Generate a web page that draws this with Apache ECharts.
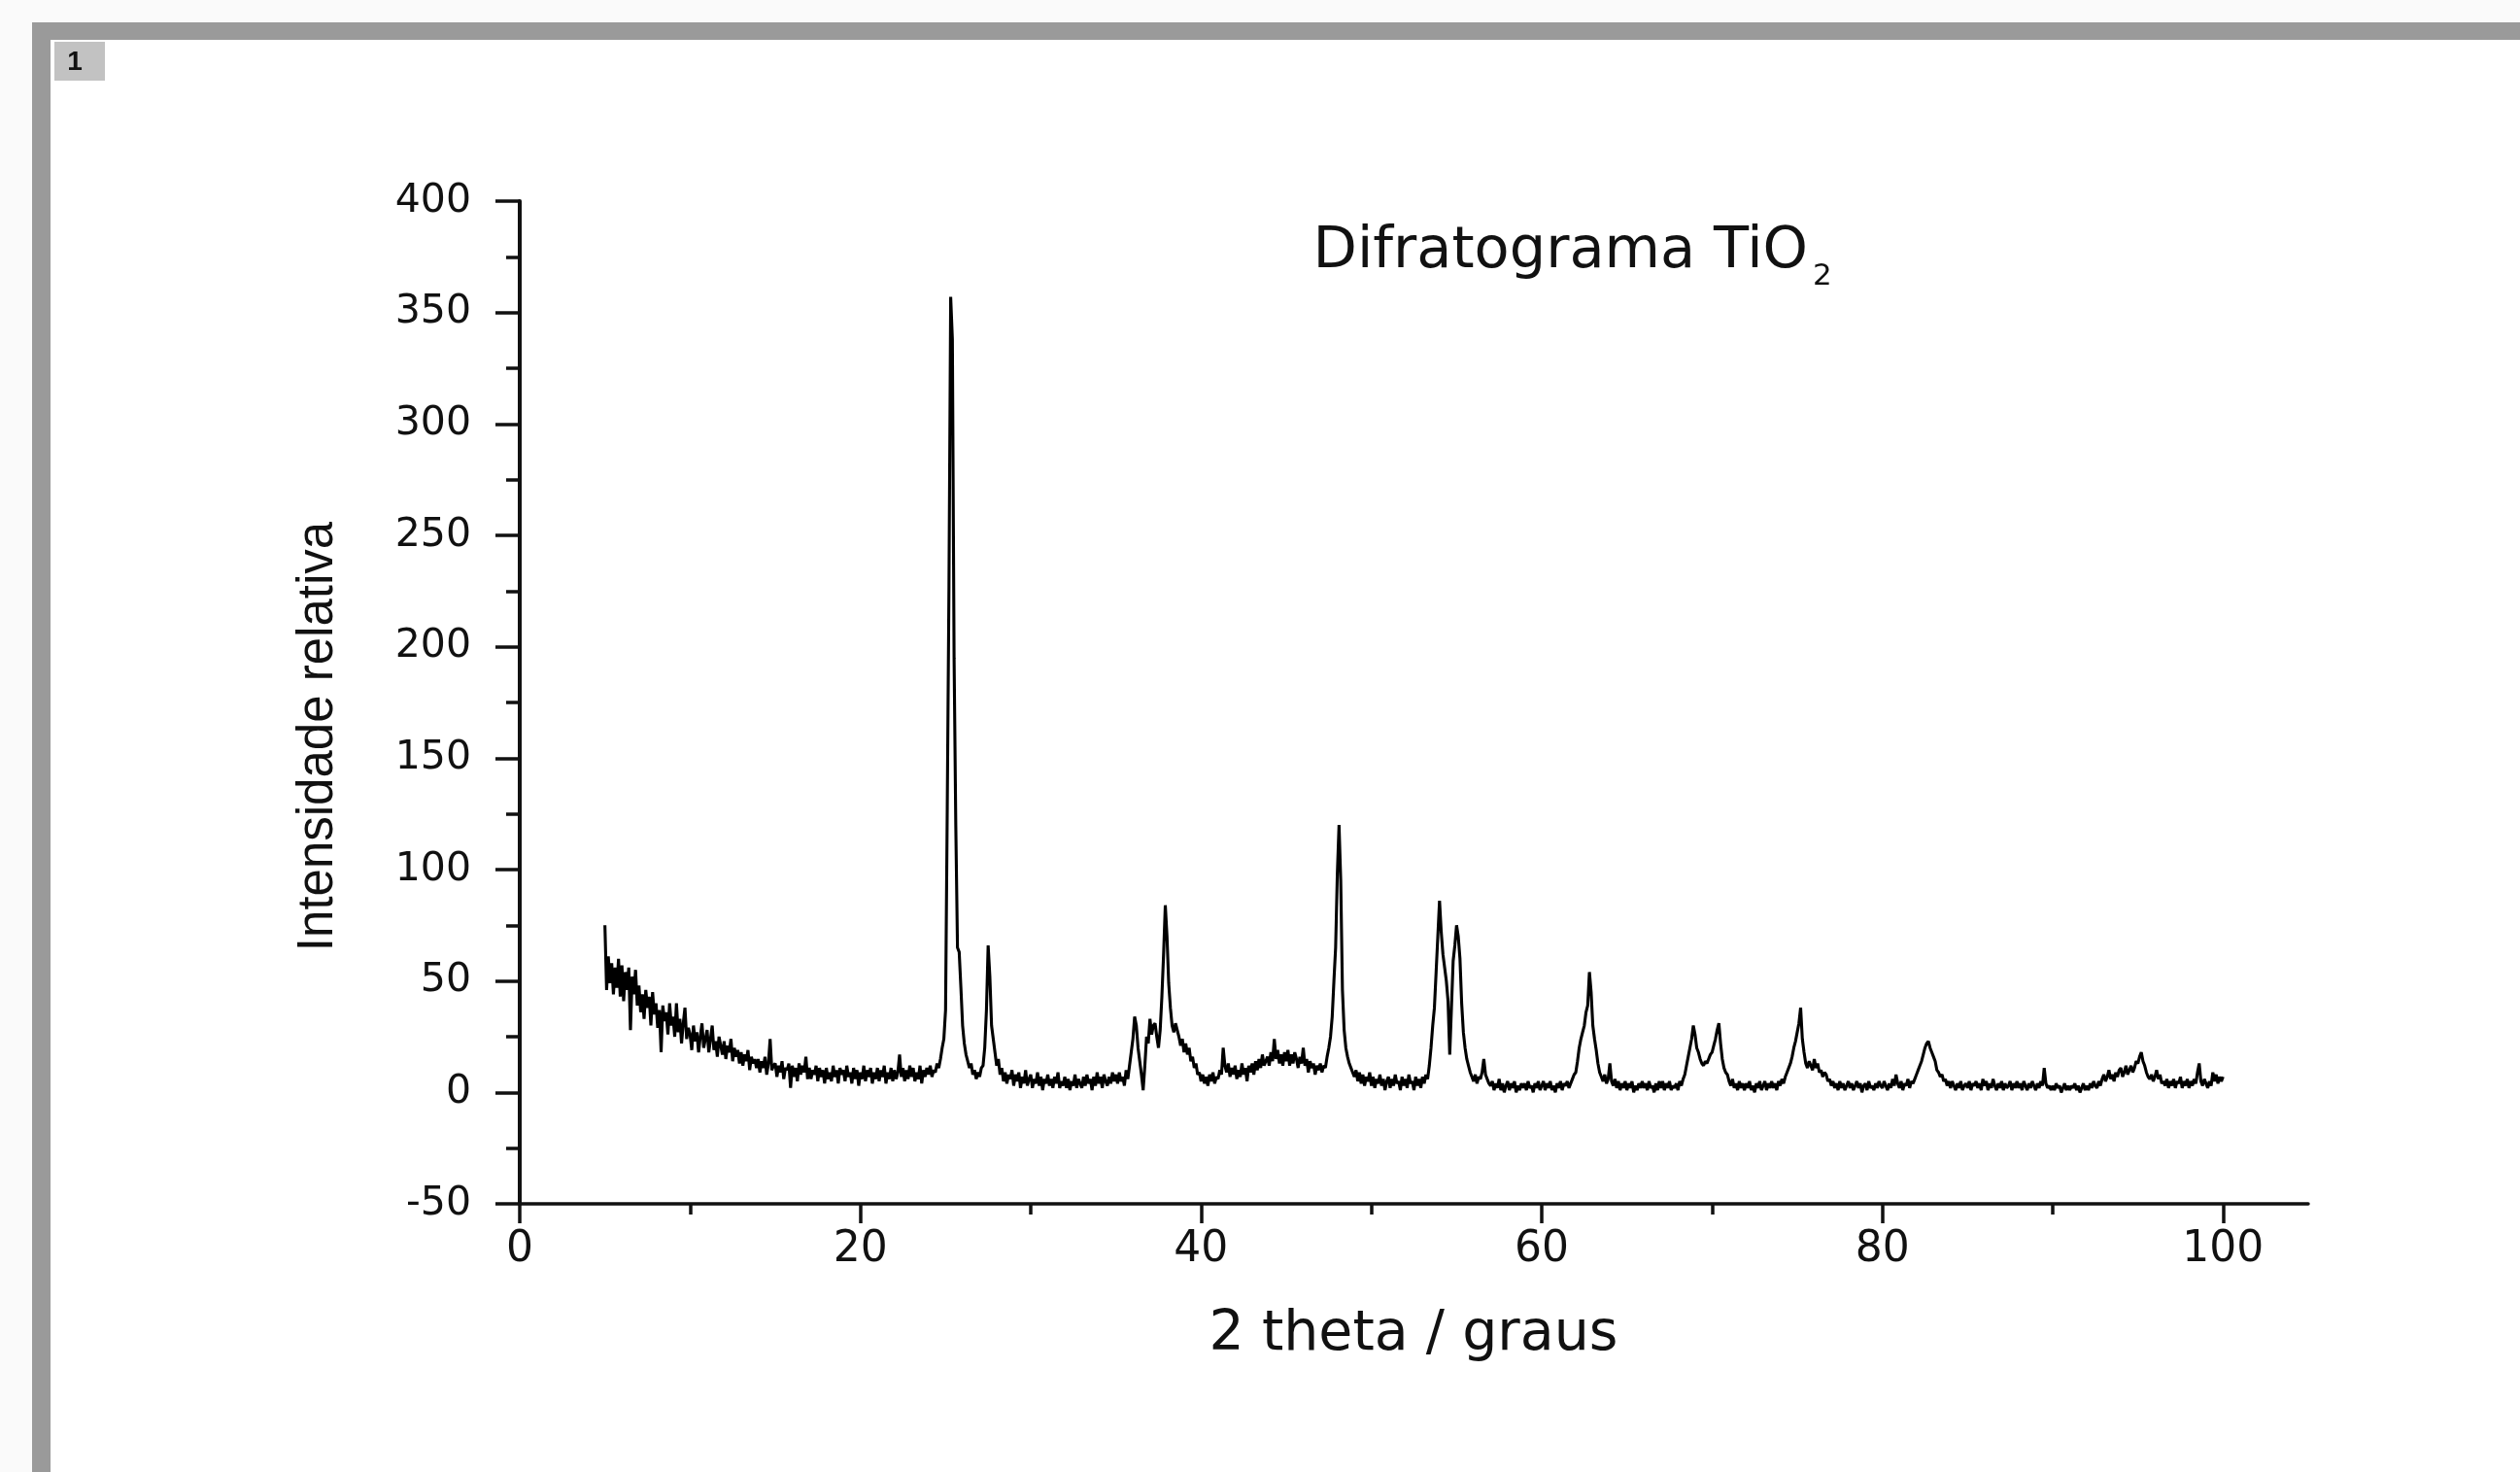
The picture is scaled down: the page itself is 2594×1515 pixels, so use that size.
<!DOCTYPE html>
<html>
<head>
<meta charset="utf-8">
<script src="https://cdn.jsdelivr.net/npm/echarts@6/dist/echarts.min.js"></script>
<style>
html,body{margin:0;padding:0;background:#fafafa;}
#chart{width:2594px;height:1515px;}
</style>
</head>
<body>
<div id="chart"></div>
<script>
// ---- data: XRD scan of TiO2 (2 theta in degrees, relative intensity), step 0.1 deg ----
const scanStep = 0.1;
const segmentStarts = [5.0, 25.0, 45.0, 65.0, 85.0];
// 5.0 - 24.9
const seg05to25 = [
  75,46,61,49,58,44,56,47,60,43,
  57,41,54,46,56,28,52,44,55,39,
  48,36,44,33,46,38,43,30,45,35,
  40,29,37,18,39,32,36,26,40,30,
  34,25,40,27,33,22,31,38,24,29,
  26,19,30,23,27,18,25,31,20,24,
  28,18,24,30,19,23,16,25,21,17,
  23,15,21,18,24,14,20,16,19,13,
  18,12,17,14,19,10,16,13,15,11,
  15,9,14,11,16,8,13,24,10,12,
  13,7,12,9,14,6,11,10,13,2,
  12,7,11,5,13,8,12,9,16,6,
  11,6,10,8,12,5,11,7,10,4,
  11,6,9,5,12,7,10,4,11,8,
  10,5,12,7,9,4,11,6,10,3,
  9,6,12,5,10,7,11,4,9,6,
  11,5,10,7,12,4,9,6,11,5,
  10,6,9,17,7,11,5,10,6,12,
  7,11,5,9,6,12,4,10,7,11,
  8,12,7,10,9,13,11,15,20,24
];
// 25.0 - 44.9
const seg25to45 = [
  37,128,227,357,338,195,120,65,63,47,
  30,22,17,14,11,13,8,10,6,9,
  7,11,12,20,37,66,52,30,24,18,
  12,15,8,11,5,9,4,8,6,10,
  3,8,5,9,2,7,4,10,3,6,
  8,2,6,4,9,3,7,1,6,4,
  8,3,6,2,7,4,9,2,5,3,
  7,2,6,1,5,3,8,2,6,4,
  2,7,3,8,4,6,1,7,3,9,
  4,7,2,8,5,3,7,4,9,5,
  8,4,9,5,7,3,10,6,12,18,
  24,34,30,20,14,8,1,12,25,22,
  33,26,30,31,25,20,28,43,62,84,
  70,49,38,30,27,31,28,25,21,24,
  18,22,17,20,14,16,11,13,8,9,
  5,8,4,7,3,8,5,9,4,7,
  6,10,8,20,12,9,13,7,11,8,
  12,6,10,7,13,8,11,5,12,9,
  13,8,14,10,15,11,17,12,14,16,
  12,18,14,24,15,19,13,17,12,18
];
// 45.0 - 64.9
const seg45to65 = [
  14,19,12,17,13,18,15,11,16,13,
  20,12,15,9,14,11,13,8,12,10,
  13,9,12,11,16,20,25,34,50,65,
  98,120,95,46,28,20,16,13,11,9,
  7,10,5,9,4,8,3,7,5,9,
  3,7,2,6,4,8,3,6,1,5,
  7,2,6,3,8,4,5,1,7,3,
  6,2,8,4,5,1,7,3,6,2,
  7,4,8,6,12,20,30,38,54,70,
  86,72,62,56,50,41,17,38,59,66,
  75,70,60,40,27,20,15,12,9,7,
  5,8,4,7,6,9,15,8,6,4,
  3,5,1,4,2,6,1,4,0,3,
  5,1,4,2,5,0,3,1,4,2,
  4,1,5,2,3,0,4,2,5,1,
  3,5,1,4,2,5,1,3,0,4,
  2,5,1,4,3,5,2,4,6,8,
  9,14,20,24,27,30,36,39,54,45,
  30,24,19,13,9,7,5,8,4,6,
  13,5,3,6,2,5,1,4,2,5
];
// 65.0 - 84.9
const seg65to85 = [
  1,4,2,5,0,3,1,4,2,5,
  2,4,1,5,2,3,0,4,1,5,
  2,5,1,4,2,5,1,3,2,4,
  1,5,3,6,8,12,16,20,24,30,
  26,20,18,15,13,12,14,13,15,17,
  18,21,24,28,31,22,15,11,9,8,
  5,3,6,2,4,1,5,2,4,1,
  4,2,5,1,3,0,4,2,5,1,
  3,5,1,4,2,5,2,4,1,5,
  3,6,4,7,9,11,13,16,20,23,
  27,31,38,24,18,13,11,14,12,10,
  15,11,13,9,10,7,9,8,5,6,
  3,5,2,4,1,5,2,4,1,3,
  5,2,4,1,3,5,2,4,0,3,
  4,1,5,2,3,1,4,2,5,3,
  2,5,3,1,4,2,6,3,8,4,
  2,5,1,4,3,6,2,5,4,6,
  8,10,12,14,17,20,22,23,20,18,
  16,14,10,9,7,8,5,6,3,5,
  2,5,3,1,4,2,5,1,3,4
];
// 85.0 - 100.0
const seg85to100 = [
  2,5,1,4,3,5,2,4,1,6,
  3,5,1,4,2,6,3,1,4,2,
  5,1,4,2,3,5,1,4,2,5,
  2,4,1,5,3,1,4,2,5,3,
  1,4,2,5,3,11,4,2,3,1,
  3,1,4,2,3,0,2,4,1,3,
  1,3,2,4,1,3,0,2,4,1,
  3,1,4,2,5,3,2,5,3,6,
  8,5,7,10,6,8,5,9,7,10,
  11,7,9,12,8,10,12,9,11,14,
  13,16,18,14,12,9,7,6,8,5,
  7,10,6,8,4,5,3,6,2,5,
  3,6,2,5,4,7,2,5,3,6,
  2,5,3,6,4,9,13,5,3,6,
  4,2,5,3,9,5,8,4,7,5,
  7
];
const xMajorTicks = [0, 20, 40, 60, 80, 100];
const xMinorTicks = [10, 30, 50, 70, 90];
const yMin = -50, yMax = 400, yStep = 50;
const xMin = 0, xMax = 105;
const titleText = 'Difratograma TiO';
const titleSub = '2';
const xTitle = '2 theta / graus';
const yTitle = 'Intensidade relativa';
const panelLabel = '1';

// ---- build series points ----
const segments = [seg05to25, seg25to45, seg45to65, seg65to85, seg85to100];
const points = [];
segments.forEach((seg, s) => {
  seg.forEach((v, i) => {
    points.push([+(segmentStarts[s] + i * scanStep).toFixed(1), v]);
  });
});

function fontAvailable(name) {
  const ctx = document.createElement('canvas').getContext('2d');
  const probe = 'Intensidade relativa';
  ctx.font = '72px monospace';
  const w0 = ctx.measureText(probe).width;
  ctx.font = '72px "' + name + '", monospace';
  return Math.abs(ctx.measureText(probe).width - w0) > 0.5;
}
const narrow = fontAvailable('Liberation Sans Narrow');
const yTitleFont = narrow ? '62px "Liberation Sans Narrow"' : '51px "Liberation Sans"';

const ink = '#111111';
const chart = echarts.init(document.getElementById('chart'), null, {renderer: 'canvas'});
chart.setOption({
  animation: false,
  backgroundColor: '#fafafa',
  graphic: [
    {type: 'rect', z: -10, silent: true, shape: {x: 33, y: 23, width: 2700, height: 1600}, style: {fill: '#9a9a9a'}},
    {type: 'rect', z: -9, silent: true, shape: {x: 52, y: 41, width: 2700, height: 1600}, style: {fill: '#ffffff'}},
    {type: 'rect', z: -8, silent: true, shape: {x: 56, y: 43, width: 52, height: 40}, style: {fill: '#c2c2c2'}},
    {type: 'text', z: 5, silent: true, x: 77, y: 64,
      style: {text: panelLabel, font: 'bold 28px "Liberation Sans"', fill: '#111', textAlign: 'center', textVerticalAlign: 'middle'}},
    {type: 'text', z: 5, silent: true, x: 1861, y: 260,
      style: {text: titleText, font: '59px "DejaVu Sans"', fill: ink, textAlign: 'right', textVerticalAlign: 'middle'}},
    {type: 'text', z: 5, silent: true, x: 1866, y: 285,
      style: {text: titleSub, font: '31px "DejaVu Sans"', fill: ink, textAlign: 'left', textVerticalAlign: 'middle'}},
    {type: 'text', z: 5, silent: true, x: 1455, y: 1374,
      style: {text: xTitle, font: '57px "DejaVu Sans"', fill: ink, textAlign: 'center', textVerticalAlign: 'middle'}},
    {type: 'text', z: 5, silent: true, x: 328, y: 758, rotation: Math.PI / 2,
      style: {text: yTitle, font: yTitleFont, fill: ink, textAlign: 'center', textVerticalAlign: 'middle'}}
  ],
  grid: {left: 535, top: 207, width: 1841, height: 1032, containLabel: false},
  xAxis: [
    {
      type: 'value', min: xMin, max: xMax, position: 'bottom',
      splitLine: {show: false},
      axisLine: {show: true, onZero: false, lineStyle: {color: ink, width: 3.5}},
      axisTick: {show: true, customValues: xMajorTicks, length: 20, lineStyle: {color: ink, width: 3.5}},
      axisLabel: {show: true, customValues: xMajorTicks, margin: 26, fontSize: 44, fontFamily: 'DejaVu Sans', color: ink}
    },
    {
      type: 'value', min: xMin, max: xMax, position: 'bottom', gridIndex: 0,
      splitLine: {show: false},
      axisLine: {show: false, onZero: false},
      axisTick: {show: true, customValues: xMinorTicks, length: 11, lineStyle: {color: ink, width: 3.5}},
      axisLabel: {show: false}
    }
  ],
  yAxis: {
    type: 'value', min: yMin, max: yMax, interval: yStep,
    splitLine: {show: false},
    axisLine: {show: true, onZero: false, lineStyle: {color: ink, width: 4}},
    axisTick: {show: true, length: 25, lineStyle: {color: ink, width: 3.5}},
    minorTick: {show: true, splitNumber: 2, length: 14, lineStyle: {color: ink, width: 3.5}},
    axisLabel: {margin: 50, fontSize: 41, fontFamily: 'DejaVu Sans', color: ink}
  },
  series: [{
    type: 'line',
    xAxisIndex: 0,
    yAxisIndex: 0,
    data: points,
    showSymbol: false,
    symbol: 'none',
    sampling: null,
    lineStyle: {color: '#000', width: 3.1},
    clip: true
  }]
});
</script>
</body>
</html>
